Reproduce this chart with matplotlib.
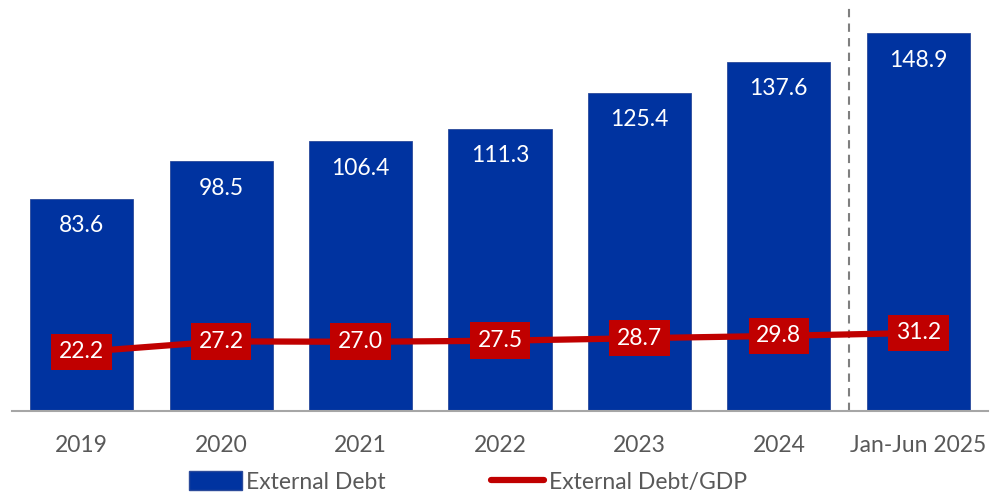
import matplotlib
matplotlib.use("Agg")
import matplotlib.pyplot as plt
from matplotlib.patches import Patch
from matplotlib.lines import Line2D

categories = ["2019", "2020", "2021", "2022", "2023", "2024", "Jan-Jun 2025"]
external_debt = [83.6, 98.5, 106.4, 111.3, 125.4, 137.6, 148.9]
debt_to_gdp = [22.2, 27.2, 27.0, 27.5, 28.7, 29.8, 31.2]

BLUE = "#0033A0"
RED = "#C00000"
GRAY_TEXT = "#595959"
FONT = "Lato"
FS = 16.5

plt.rcParams["font.family"] = [FONT, "DejaVu Sans"]

W, H = 1004, 498
fig = plt.figure(figsize=(W / 100, H / 100), dpi=100)
ax = fig.add_axes([12 / W, (H - 411) / H, 976 / W, 406 / H])

x = list(range(len(categories)))
ax.bar(x, external_debt, width=0.74, color=BLUE, edgecolor="#2b4a9a", linewidth=0.6, zorder=2)
ax.set_xlim(-0.5, len(categories) - 0.5)
ax.set_ylim(0, 160)

for xi, v in zip(x, external_debt):
    ax.annotate(f"{v:.1f}", (xi, v), xytext=(0, -19.5), textcoords="offset points",
                ha="center", va="center", color="white", fontsize=FS, zorder=3)

# split between full years and the half-year period
ax.axvline(5.5, color="#7f7f7f", linestyle=(0, (4, 3)), linewidth=1.5, zorder=1)

for side in ["top", "right", "left"]:
    ax.spines[side].set_visible(False)
ax.spines["bottom"].set_color("#a6a6a6")
ax.spines["bottom"].set_linewidth(1.5)
ax.set_yticks([])
ax.set_xticks(x)
ax.set_xticklabels(categories, fontsize=FS, color=GRAY_TEXT)
ax.tick_params(axis="x", length=0, pad=17)

ax2 = ax.twinx()
ax2.set_ylim(-5.8, 186.6)
ax2.plot(x, debt_to_gdp, color=RED, linewidth=4.5, solid_capstyle="round", zorder=4)
for xi, v in zip(x, debt_to_gdp):
    ax2.text(xi, v, f"{v:.1f}", ha="center", va="center", color="white", fontsize=FS,
             zorder=5, bbox=dict(boxstyle="square,pad=0.34", facecolor=RED, edgecolor="none"))
ax2.axis("off")

handles = [Patch(facecolor=BLUE, edgecolor="#2b4a9a"),
           Line2D([0], [0], color=RED, linewidth=4.5, solid_capstyle="round")]
fig.legend(handles, ["External Debt", "External Debt/GDP"], loc="center",
           bbox_to_anchor=(468 / W, 1 - 482 / H), ncol=2, frameon=False,
           fontsize=FS, labelcolor=GRAY_TEXT, handlelength=2.3, handletextpad=0.2,
           columnspacing=4.6, handleheight=0.9)

fig.savefig("out.png", dpi=100)
